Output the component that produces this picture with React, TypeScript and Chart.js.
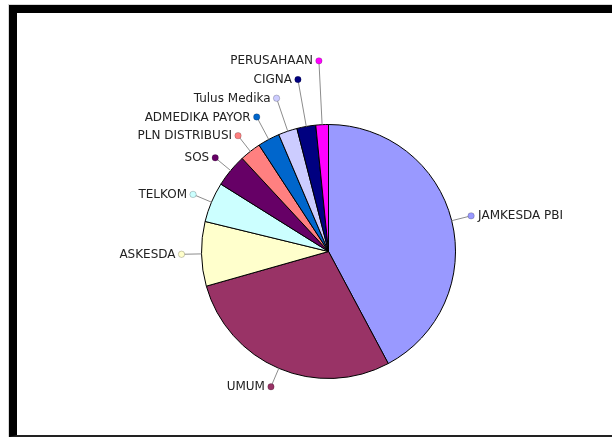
import React, { useEffect, useRef } from "react";
import { Chart, registerables } from "chart.js";

Chart.register(...registerables);

const categories = [
  "JAMKESDA PBI",
  "UMUM",
  "ASKESDA",
  "TELKOM",
  "SOS",
  "PLN DISTRIBUSI",
  "ADMEDIKA PAYOR",
  "Tulus Medika",
  "CIGNA",
  "PERUSAHAAN",
];
const values = [422, 284, 82, 51, 42, 27, 28, 24, 24, 16];
const colors = [
  "#9999FF",
  "#993366",
  "#FFFFCC",
  "#CCFFFF",
  "#660066",
  "#FF8080",
  "#0066CC",
  "#CCCCFF",
  "#000080",
  "#FF00FF",
];

const LABEL_GAP = 18.7;

const labelPlugin = {
  id: "pieLabels",
  afterDatasetsDraw(chart: any) {
    const ctx = chart.ctx as CanvasRenderingContext2D;
    const meta = chart.getDatasetMeta(0);
    const items = meta.data.map((arc: any, i: number) => {
      const p = arc.getProps(["startAngle", "endAngle", "outerRadius", "x", "y"], true);
      const mid = (p.startAngle + p.endAngle) / 2;
      const ex = p.x + p.outerRadius * Math.cos(mid);
      const ey = p.y + p.outerRadius * Math.sin(mid);
      const r = p.outerRadius + 20;
      return {
        i,
        mid,
        cx: p.x,
        cy: p.y,
        ex,
        ey,
        dx: p.x + r * Math.cos(mid),
        dy: p.y + r * Math.sin(mid),
      };
    });
    let prevY = Infinity;
    for (const it of items) {
      if (Math.cos(it.mid) >= 0) continue;
      if (it.dy > prevY - LABEL_GAP && Math.sin(it.mid) < -0.1) {
        const target = prevY - LABEL_GAP;
        const r = (it.cy - target) / -Math.sin(it.mid);
        it.dx = it.cx + r * Math.cos(it.mid);
        it.dy = it.cy + r * Math.sin(it.mid);
      }
      prevY = it.dy;
    }
    ctx.save();
    for (const it of items) {
      ctx.beginPath();
      ctx.moveTo(it.ex, it.ey);
      ctx.lineTo(it.dx, it.dy);
      ctx.strokeStyle = "#8c8c8c";
      ctx.lineWidth = 1;
      ctx.stroke();
      ctx.beginPath();
      ctx.arc(it.dx, it.dy, 3.2, 0, Math.PI * 2);
      ctx.fillStyle = colors[it.i];
      ctx.fill();
      ctx.strokeStyle = "rgba(0,0,0,0.25)";
      ctx.lineWidth = 0.8;
      ctx.stroke();
      ctx.font = "12px 'DejaVu Sans', Verdana, sans-serif";
      ctx.fillStyle = "#222222";
      ctx.textBaseline = "middle";
      const right = Math.cos(it.mid) >= 0;
      ctx.textAlign = right ? "left" : "right";
      ctx.fillText(categories[it.i], right ? it.dx + 7 : it.dx - 6, it.dy + 0.5);
    }
    ctx.restore();
  },
};

export default function App() {
  const canvasRef = useRef<HTMLCanvasElement | null>(null);

  useEffect(() => {
    if (!canvasRef.current) return;
    const chart = new Chart(canvasRef.current, {
      type: "pie",
      data: {
        labels: categories,
        datasets: [
          {
            data: values,
            backgroundColor: colors,
            borderColor: "#000000",
            borderWidth: 1,
          },
        ],
      },
      options: {
        responsive: false,
        animation: false,
        layout: { padding: { left: 201, right: 156, top: 124, bottom: 58 } },
        plugins: {
          legend: { display: false },
          tooltip: { enabled: false },
        },
      },
      plugins: [labelPlugin],
    });
    return () => chart.destroy();
  }, []);

  return (
    <>
      <div
        style={{
          position: "absolute",
          left: 8,
          top: 4,
          width: 604,
          height: 433,
          boxSizing: "border-box",
          borderTop: "1px solid #d8d8d8",
          borderLeft: "1px solid #d8d8d8",
        }}
      >
        <div
          style={{
            position: "absolute",
            left: 0,
            top: 0,
            right: 0,
            bottom: 0,
            borderTop: "8px solid #000",
            borderLeft: "8px solid #000",
            borderBottom: "2px solid #222",
          }}
        />
      </div>
      <canvas
        ref={canvasRef}
        width={612}
        height={437}
        style={{ position: "absolute", left: 0, top: 0, width: 612, height: 437 }}
      />
    </>
  );
}
